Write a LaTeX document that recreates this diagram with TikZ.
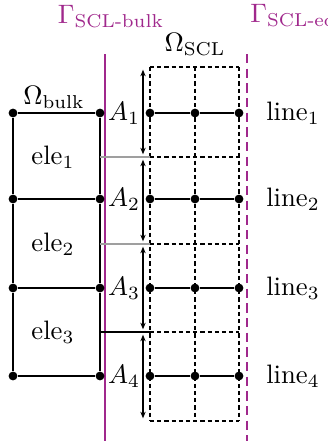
\documentclass[tikz,border=0pt]{standalone}
\usepackage{amsmath}
\usetikzlibrary{arrows.meta}
\definecolor{gammacol}{RGB}{160,40,140}
\tikzset{
  dot/.style={circle,fill,inner sep=0pt,minimum size=3.3pt},
  mesh/.style={line width=0.8pt},
  cell/.style={dash pattern=on 1.6pt off 1.1pt,line width=0.4pt},
  span/.style={{Stealth[length=2.5pt,width=2pt]}-{Stealth[length=2.5pt,width=2pt]},
               line width=0.4pt,shorten <=1pt,shorten >=1pt}
}
\begin{document}
\begin{tikzpicture}[x=0.375pt,y=-0.375pt]
\useasboundingbox (0,0) rectangle (327,441);
% interfaces
\draw[gammacol,line width=0.6pt] (105,54) -- (105,441);
\draw[gammacol,line width=0.6pt,dash pattern=on 3.5pt off 2pt] (247,54) -- (247,441);
\node[gammacol] (gbulk) at (111,17) {$\Gamma_{\text{SCL-bulk}}$};
\node[gammacol,anchor=west] (gedge) at (241,17) {$\Gamma_{\text{SCL-edge}}$};
% SCL cells
\foreach \x in {150,195,239}
  \draw[cell] (\x,67) -- (\x,421);
\foreach \y in {67,157,244,332,421}
  \draw[cell] (150,\y) -- (239,\y);
\node (oscl) at (195,45) {$\Omega_{\text{SCL}}$};
% bulk mesh
\foreach \i/\y in {1/113,2/199,3/288,4/376} {
  \node[dot] (l\i) at (13,\y) {};
  \node[dot] (b\i) at (100,\y) {};
  \node[anchor=west,inner sep=1pt] (a\i) at (b\i.east) {$A_\i$};
  \node[dot] (s\i1) at (150,\y) {};
  \node[dot] (s\i2) at (195,\y) {};
  \node[dot] (s\i3) at (239,\y) {};
  \node (line\i) at (293,\y) {line$_\i$};
  \draw[mesh] (l\i) -- (b\i);
  \draw[mesh] (s\i1) -- (s\i2) -- (s\i3);
}
\foreach \i/\j in {1/2,2/3,3/4} {
  \draw[mesh] (l\i) -- (l\j);
  \draw[mesh] (b\i) -- (b\j);
}
\node (obulk) at (54,97) {$\Omega_{\text{bulk}}$};
\node (ele1) at (53,157) {ele$_1$};
\node (ele2) at (53,244) {ele$_2$};
\node (ele3) at (53,332) {ele$_3$};
% projections
\coordinate (c0) at (143,67);
\coordinate (c1) at (143,157);
\coordinate (c2) at (143,244);
\coordinate (c3) at (143,332);
\coordinate (c4) at (143,421);
\coordinate (p1) at (100,157);
\coordinate (p2) at (100,244);
\coordinate (p3) at (100,332);
\coordinate (q1) at (150,157);
\coordinate (q2) at (150,244);
\coordinate (q3) at (150,332);
\draw[gray!75,line width=0.5pt] (p1) -- (q1);
\draw[gray!75,line width=0.5pt] (p2) -- (q2);
\draw[line width=0.4pt] (p3) -- (q3);
\draw[span] (c0) -- (c1);
\draw[span] (c1) -- (c2);
\draw[span] (c2) -- (c3);
\draw[span] (c3) -- (c4);
\end{tikzpicture}
\end{document}
